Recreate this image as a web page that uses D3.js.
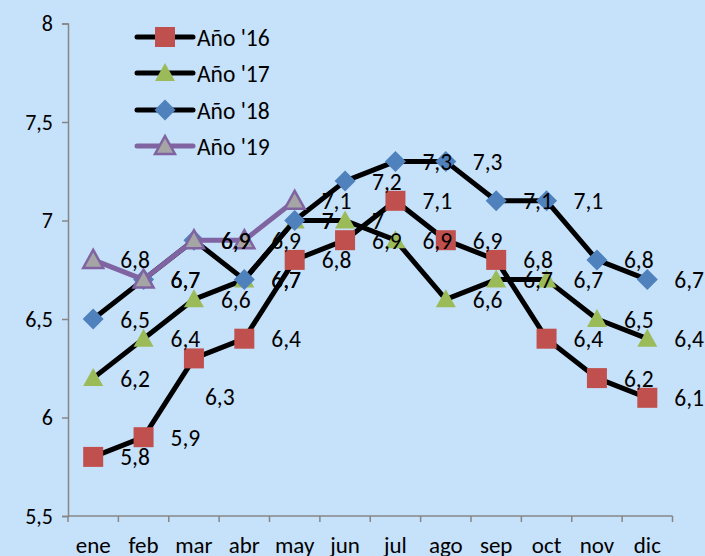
<!DOCTYPE html>
<html>
<head>
<meta charset="utf-8">
<script src="https://cdn.jsdelivr.net/npm/d3@7"></script>
<style>
  html, body { margin: 0; padding: 0; background: #c6e1fa; overflow: hidden; }
  text { font-family: Calibri, Carlito, Lato, sans-serif; fill: #000; }
</style>
</head>
<body>
<div id="chart"></div>
<script>
var months = ['ene', 'feb', 'mar', 'abr', 'may', 'jun', 'jul', 'ago', 'sep', 'oct', 'nov', 'dic'];
var yTicks = [5.5, 6, 6.5, 7, 7.5, 8];

var seriesNames = ["Año '16", "Año '17", "Año '18", "Año '19"];
var values16 = [5.8, 5.9, 6.3, 6.4, 6.8, 6.9, 7.1, 6.9, 6.8, 6.4, 6.2, 6.1];
var values17 = [6.2, 6.4, 6.6, 6.7, 7.0, 7.0, 6.9, 6.6, 6.7, 6.7, 6.5, 6.4];
var values18 = [6.5, 6.7, 6.9, 6.7, 7.0, 7.2, 7.3, 7.3, 7.1, 7.1, 6.8, 6.7];
var values19 = [6.8, 6.7, 6.9, 6.9, 7.1];

var svgWidth = 705;
var svgHeight = 556;

// marker + line styles, one per series
var styles = [
  { line: '#000', marker: 'square', fill: '#c0504d', stroke: 'none' },
  { line: '#000', marker: 'triangle', fill: '#9bbb59', stroke: 'none' },
  { line: '#000', marker: 'diamond', fill: '#4f81bd', stroke: 'none' },
  { line: '#8064a2', marker: 'triangle', fill: '#a5a5a5', stroke: '#8064a2' }
];
var allValues = [values16, values17, values18, values19];

// one label in the original was dragged away from its point
var labelNudge = { '0-2': [-16, 38] };

var svg = d3.select('#chart')
  .append('svg')
  .attr('width', svgWidth)
  .attr('height', svgHeight);

var x = d3.scaleBand()
  .domain(months)
  .range([68, 672.5])
  .padding(0);

var y = d3.scaleLinear()
  .domain([5.5, 8])
  .range([516, 23.5]);

function cx(i) { return x(months[i]) + x.bandwidth() / 2; }

// y axis
var yAxis = d3.axisLeft(y)
  .tickValues(yTicks)
  .tickSize(6)
  .tickPadding(9)
  .tickFormat(function(d) { return String(d).replace('.', ','); });

var gy = svg.append('g')
  .attr('transform', 'translate(68,0)')
  .call(yAxis);
gy.select('.domain').attr('stroke', '#868686').attr('stroke-width', 1.5);
gy.selectAll('.tick line').attr('stroke', '#868686').attr('stroke-width', 1.5);
gy.selectAll('.tick text').style('font-size', '22px').attr('fill', '#000');

// x axis: ticks sit between categories
svg.append('line')
  .attr('x1', 68).attr('x2', 672.5)
  .attr('y1', y(5.5)).attr('y2', y(5.5))
  .attr('stroke', '#868686').attr('stroke-width', 1.5);

svg.selectAll('.xtick')
  .data(d3.range(months.length + 1))
  .enter()
  .append('line')
  .attr('class', 'xtick')
  .attr('x1', function(d) { return 68 + d * x.step(); })
  .attr('x2', function(d) { return 68 + d * x.step(); })
  .attr('y1', y(5.5))
  .attr('y2', y(5.5) + 6)
  .attr('stroke', '#868686')
  .attr('stroke-width', 1.5);

svg.selectAll('.xlabel')
  .data(months)
  .enter()
  .append('text')
  .attr('class', 'xlabel')
  .attr('x', function(d, i) { return cx(i); })
  .attr('y', 553)
  .attr('text-anchor', 'middle')
  .style('font-size', '23px')
  .text(function(d) { return d; });

function drawMarker(g, type, px, py, st) {
  var s = 10;
  var p;
  if (type === 'square') {
    g.append('rect')
      .attr('x', px - s).attr('y', py - s)
      .attr('width', 2 * s).attr('height', 2 * s)
      .attr('fill', st.fill);
    return;
  }
  if (type === 'triangle') {
    p = [[px, py - 10], [px + 10, py + 8], [px - 10, py + 8]];
  } else {
    p = [[px, py - 10.5], [px + 10.5, py], [px, py + 10.5], [px - 10.5, py]];
  }
  g.append('path')
    .attr('d', 'M' + p.join('L') + 'Z')
    .attr('fill', st.fill)
    .attr('stroke', st.stroke)
    .attr('stroke-width', st.stroke === 'none' ? 0 : 2.5)
    .attr('stroke-linejoin', 'miter');
}

var line = d3.line()
  .x(function(d, i) { return cx(i); })
  .y(function(d) { return y(d); });

allValues.forEach(function(vals, si) {
  var st = styles[si];
  var g = svg.append('g');
  g.append('path')
    .attr('d', line(vals))
    .attr('fill', 'none')
    .attr('stroke', st.line)
    .attr('stroke-width', 5)
    .attr('stroke-linejoin', 'round')
    .attr('stroke-linecap', 'round');
  vals.forEach(function(v, i) {
    drawMarker(g, st.marker, cx(i), y(v), st);
  });
});

// data labels, on top of all series
allValues.forEach(function(vals, si) {
  svg.append('g').selectAll('text')
    .data(vals)
    .enter()
    .append('text')
    .attr('x', function(d, i) {
      var n = labelNudge[si + '-' + i];
      return cx(i) + 27 + (n ? n[0] : 0);
    })
    .attr('y', function(d, i) {
      var n = labelNudge[si + '-' + i];
      return y(d) + 8.5 + (n ? n[1] : 0);
    })
    .style('font-size', '23.5px')
    .text(function(d) { return String(d).replace('.', ','); });
});

// legend
var legendRows = [37, 73, 110, 146];
var legend = svg.selectAll('.legend')
  .data(seriesNames)
  .enter()
  .append('g')
  .attr('class', 'legend')
  .attr('transform', function(d, i) { return 'translate(0,' + legendRows[i] + ')'; });

legend.append('line')
  .attr('x1', 137).attr('x2', 193)
  .attr('y1', 0).attr('y2', 0)
  .attr('stroke', function(d, i) { return styles[i].line; })
  .attr('stroke-width', 5)
  .attr('stroke-linecap', 'round');

legend.each(function(d, i) {
  drawMarker(d3.select(this), styles[i].marker, 165, 0, styles[i]);
});

legend.append('text')
  .attr('x', 197)
  .attr('y', 8.5)
  .style('font-size', '23.5px')
  .text(function(d) { return d; });
</script>
</body>
</html>
